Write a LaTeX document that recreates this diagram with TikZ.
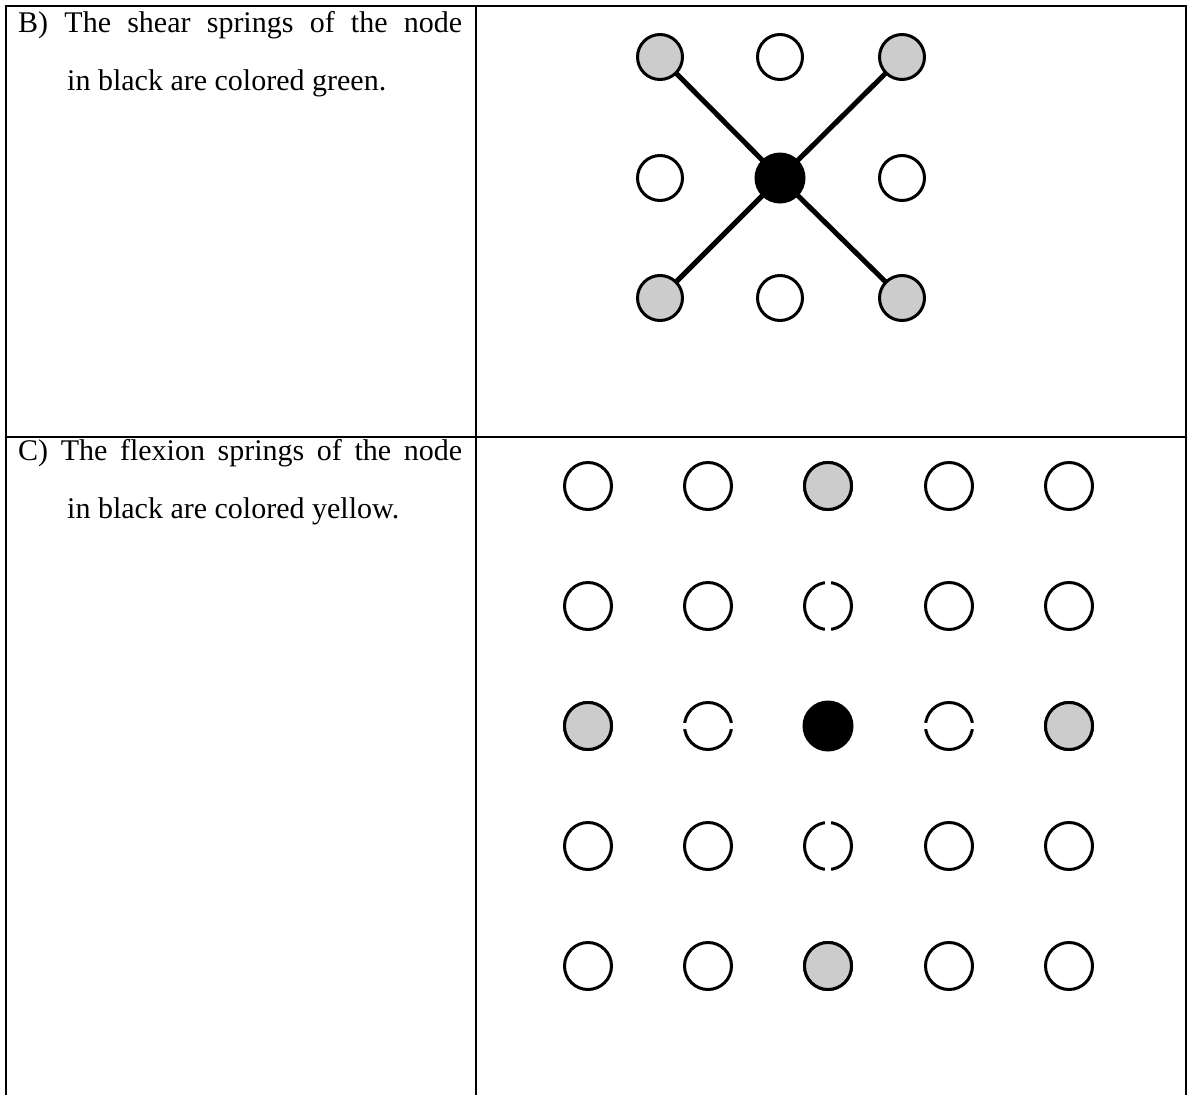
\documentclass[tikz,border=0pt]{standalone}
\usepackage{fontspec}
\setmainfont{Liberation Serif}
\usetikzlibrary{backgrounds}
\begin{document}
\begin{tikzpicture}[x=1pt,y=-1pt,
  opennode/.style={circle,draw=black,line width=3pt,minimum size=45pt,inner sep=0pt,fill=white},
  opennodec/.style={opennode,minimum size=47pt},
  shadenode/.style={opennode,fill=black!20},
  shadenodec/.style={opennodec,fill=black!20},
  hub/.style={circle,fill=black,minimum size=51pt,inner sep=0pt},
  spring/.style={line width=5pt},
  gapline/.style={draw=white,line width=6pt,shorten <=2.5pt,shorten >=2.5pt},
  rulel/.style={line width=2pt},
  txt/.style={anchor=base west,inner sep=0pt,font=\fontsize{30}{36}\selectfont}]
\useasboundingbox (0,0) rectangle (1189,1095);
% table
\coordinate (TL) at (6,6);
\coordinate (TR) at (1186,6);
\coordinate (BL) at (6,1095);
\coordinate (BR) at (1186,1095);
\coordinate (CT) at (476,6);
\coordinate (CB) at (476,1095);
\coordinate (RL) at (6,437);
\coordinate (RR) at (1186,437);
\draw[rulel] (BL) -- (TL) -- (TR) -- (BR);
\draw[rulel] (CT) -- (CB);
\draw[rulel] (RL) -- (RR);
% texts
\node[txt] (tb1) at (18,32) {\makebox[444pt][s]{B) The shear springs of the node}};
\node[txt] (tb2) at (67,90) {in black are colored green.};
\node[txt] (tc1) at (18,460) {\makebox[444pt][s]{C) The flexion springs of the node}};
\node[txt] (tc2) at (67,518) {in black are colored yellow.};
% panel B
\node[shadenode] (b11) at (660,57) {};
\node[opennode]  (b12) at (780,57) {};
\node[shadenode] (b13) at (902,57) {};
\node[opennode]  (b21) at (660,178) {};
\node[hub]       (b22) at (780,178) {};
\node[opennode]  (b23) at (902,178) {};
\node[shadenode] (b31) at (660,298) {};
\node[opennode]  (b32) at (780,298) {};
\node[shadenode] (b33) at (902,298) {};
\begin{pgfonlayer}{background}
\draw[spring] (b11.center) -- (b22.center);
\draw[spring] (b13.center) -- (b22.center);
\draw[spring] (b31.center) -- (b22.center);
\draw[spring] (b33.center) -- (b22.center);
\end{pgfonlayer}
% panel C
\foreach \r/\y in {1/486,2/606,3/726,4/846,5/966}{
  \foreach \c/\x in {1/588,2/708,3/828,4/949,5/1069}{
    \node[opennodec] (c\r\c) at (\x,\y) {};
  }
}
\node[shadenodec] (c13) at (828,486) {};
\node[shadenodec] (c31) at (588,726) {};
\node[hub]        (c33) at (828,726) {};
\node[shadenodec] (c35) at (1069,726) {};
\node[shadenodec] (c53) at (828,966) {};
\draw[gapline] (c13) -- (c33);
\draw[gapline] (c53) -- (c33);
\draw[gapline] (c31) -- (c33);
\draw[gapline] (c35) -- (c33);
\end{tikzpicture}
\end{document}
